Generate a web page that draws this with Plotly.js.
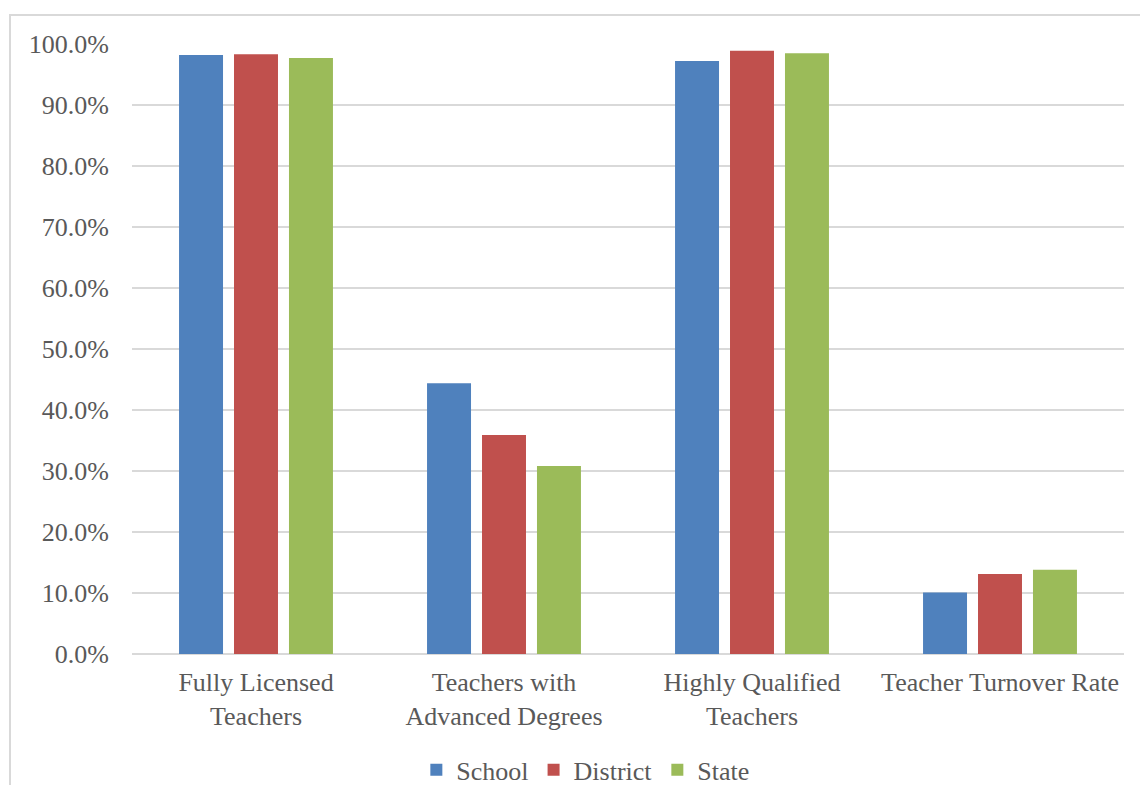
<!DOCTYPE html>
<html>
<head>
<meta charset="utf-8">
<script src="https://cdn.plot.ly/plotly-3.0.1.min.js"></script>
<style>
  html, body { margin: 0; padding: 0; background: #fff; }
  #wrap { position: relative; width: 1140px; height: 785px; overflow: hidden; }
  #frame { position: absolute; left: 9px; top: 14px; width: 1200px; height: 900px;
           border-left: 2px solid #d9d9d9; border-top: 2px solid #d9d9d9; box-sizing: border-box; pointer-events: none; }
  #chart { position: absolute; left: 0; top: 0; width: 1140px; height: 785px; }
</style>
</head>
<body>
<div id="wrap">
  <div id="chart"></div>
  <div id="frame"></div>
</div>
<script>
const categories = ["Fully Licensed<br>Teachers", "Teachers with<br>Advanced Degrees", "Highly Qualified<br>Teachers", "Teacher Turnover Rate"];
const seriesNames = ["School", "District", "State"];
const school = [0.982, 0.444, 0.972, 0.101];
const district = [0.983, 0.359, 0.989, 0.131];
const state = [0.977, 0.308, 0.985, 0.138];
const colors = ["#4F81BD", "#C0504D", "#9BBB59"];

const values = [school, district, state];
const traces = seriesNames.map((name, i) => ({
  type: "bar",
  name: name,
  x: categories,
  y: values[i],
  marker: { color: colors[i], line: { width: 0 } },
  hoverinfo: "skip"
}));

const font = { family: "Liberation Serif", size: 26, color: "#595959" };

const layout = {
  width: 1140,
  height: 785,
  margin: { l: 132, r: 16, t: 44, b: 131, autoexpand: false },
  paper_bgcolor: "rgba(0,0,0,0)",
  plot_bgcolor: "#ffffff",
  font: font,
  barmode: "group",
  bargap: 0.335,
  bargroupgap: 0.2,
  showlegend: true,
  legend: {
    orientation: "h",
    x: 0.457, xanchor: "center",
    y: -0.19, yanchor: "middle",
    font: font,
    itemwidth: 30,
    traceorder: "normal"
  },
  xaxis: {
    type: "category",
    automargin: false,
    showgrid: false,
    showline: false,
    zeroline: false,
    ticks: "",
    tickfont: font,
    ticklabelstandoff: 10
  },
  yaxis: {
    automargin: false,
    range: [0, 1],
    dtick: 0.1,
    tick0: 0,
    tickformat: ".1%",
    showgrid: true,
    gridcolor: "#d9d9d9",
    gridwidth: 2,
    zeroline: true,
    zerolinecolor: "#d9d9d9",
    zerolinewidth: 2,
    showline: false,
    ticks: "",
    tickfont: font,
    ticklabelstandoff: 22
  }
};

Plotly.newPlot("chart", traces, layout, { displayModeBar: false, staticPlot: true });
</script>
</body>
</html>
